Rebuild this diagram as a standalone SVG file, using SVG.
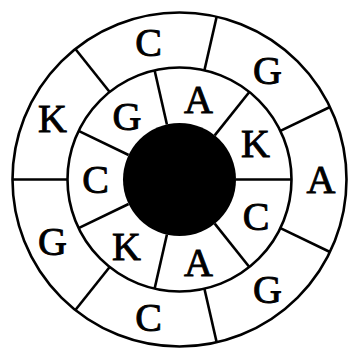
<svg xmlns="http://www.w3.org/2000/svg" width="349" height="350" viewBox="0 0 349 350">
<style>
.ring{fill:none;stroke:#000;stroke-width:2.6}
.div{stroke:#000;stroke-width:2.6;stroke-linecap:butt}
.lab{font-family:"Liberation Serif","DejaVu Serif",serif;font-size:40px;fill:#000;text-anchor:middle;stroke:#000;stroke-width:0.9}
</style>
<rect width="349" height="350" fill="#fff"/>
<g id="rings">
<circle class="ring" cx="179.5" cy="179.5" r="167"/>
<circle class="ring" cx="179.5" cy="179.5" r="112"/>
<circle id="core" cx="179.5" cy="179.5" r="56.5" fill="#000"/>
</g>
<g id="connectors">
<line class="div" x1="236" y1="179.5" x2="291.5" y2="179.5"/>
<line class="div" x1="214.73" y1="223.67" x2="249.33" y2="267.06"/>
<line class="div" x1="166.93" y1="234.58" x2="154.58" y2="288.69"/>
<line class="div" x1="128.59" y1="204.02" x2="78.59" y2="228.1"/>
<line class="div" x1="128.59" y1="154.98" x2="78.59" y2="130.9"/>
<line class="div" x1="166.93" y1="124.42" x2="154.58" y2="70.31"/>
<line class="div" x1="214.73" y1="135.33" x2="249.33" y2="91.94"/>
<line class="div" x1="280.41" y1="228.1" x2="329.97" y2="251.96"/>
<line class="div" x1="204.42" y1="288.69" x2="216.66" y2="342.31"/>
<line class="div" x1="109.67" y1="267.06" x2="75.38" y2="310.06"/>
<line class="div" x1="67.5" y1="179.5" x2="12.5" y2="179.5"/>
<line class="div" x1="109.67" y1="91.94" x2="75.38" y2="48.94"/>
<line class="div" x1="204.42" y1="70.31" x2="216.66" y2="16.69"/>
<line class="div" x1="280.41" y1="130.9" x2="329.97" y2="107.04"/>
</g>
<g id="inner-1"><text class="lab" x="256" y="230">C</text></g>
<g id="inner-2"><text class="lab" x="198.5" y="276">A</text></g>
<g id="inner-3"><text class="lab" x="126.5" y="259.5">K</text></g>
<g id="inner-4"><text class="lab" x="95.5" y="193">C</text></g>
<g id="inner-5"><text class="lab" x="127" y="130">G</text></g>
<g id="inner-6"><text class="lab" x="198.5" y="113">A</text></g>
<g id="inner-7"><text class="lab" x="255.5" y="156.5">K</text></g>
<g id="outer-1"><text class="lab" x="321" y="192.5">A</text></g>
<g id="outer-2"><text class="lab" x="267.5" y="303">G</text></g>
<g id="outer-3"><text class="lab" x="148.5" y="331">C</text></g>
<g id="outer-4"><text class="lab" x="52.5" y="255">G</text></g>
<g id="outer-5"><text class="lab" x="52.5" y="131.5">K</text></g>
<g id="outer-6"><text class="lab" x="148.5" y="56">C</text></g>
<g id="outer-7"><text class="lab" x="267.5" y="84">G</text></g>
</svg>
